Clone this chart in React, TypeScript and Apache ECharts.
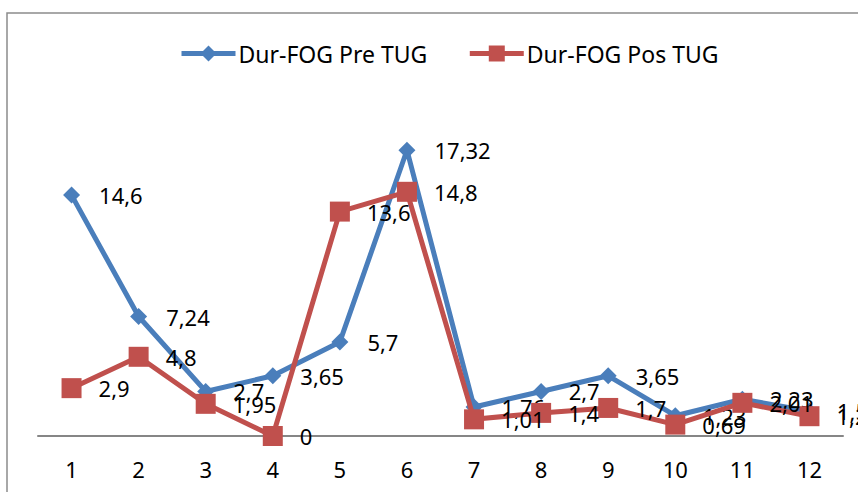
import React, { useEffect, useRef } from "react";
import * as echarts from "echarts";

const categories = ["1", "2", "3", "4", "5", "6", "7", "8", "9", "10", "11", "12"];
const preTUG = [14.6, 7.24, 2.7, 3.65, 5.7, 17.32, 1.76, 2.7, 3.65, 1.23, 2.23, 1.5];
const posTUG = [2.9, 4.8, 1.95, 0, 13.6, 14.8, 1.01, 1.4, 1.7, 0.69, 2.01, 1.2];
const seriesNames = ["Dur-FOG Pre TUG", "Dur-FOG Pos TUG"];

const FONT = "Noto Sans";
const fmt = (p: any) => String(p.value).replace(".", ",");

export default function App() {
  const ref = useRef<HTMLDivElement>(null);
  useEffect(() => {
    if (!ref.current) return;
    const chart = echarts.init(ref.current, undefined, { renderer: "svg" });
    chart.setOption({
      animation: false,
      backgroundColor: "#ffffff",
      textStyle: { fontFamily: FONT },
      graphic: [
        {
          type: "rect",
          shape: { x: 7, y: 13, width: 900, height: 600 },
          style: { fill: "none", stroke: "#8c8c8c", lineWidth: 1.5 },
          silent: true,
        },
      ],
      legend: {
        left: 174,
        top: 37,
        itemWidth: 54,
        itemHeight: 20,
        itemGap: 40,
        lineStyle: { width: 5 },
        textStyle: { fontFamily: FONT, fontSize: 23, color: "#000", padding: [0, 0, 0, -2] },
        data: seriesNames,
      },
      grid: { left: 38, right: 15, top: 106, bottom: 56, containLabel: false },
      xAxis: {
        type: "category",
        data: categories,
        boundaryGap: true,
        axisLine: { lineStyle: { color: "#868686", width: 2 } },
        axisTick: { show: false },
        axisLabel: { fontFamily: FONT, fontSize: 22, color: "#000", margin: 22 },
      },
      yAxis: {
        type: "value",
        min: 0,
        max: 20,
        show: false,
        splitLine: { show: false },
      },
      series: [
        {
          name: seriesNames[0],
          type: "line",
          data: preTUG,
          color: "#4a7ebb",
          symbol: "diamond",
          symbolSize: 17,
          lineStyle: { width: 5, color: "#4a7ebb" },
          itemStyle: { color: "#4a7ebb" },
          z: 2,
          label: {
            show: true,
            position: "right",
            distance: 19,
            formatter: fmt,
            fontFamily: FONT,
            fontSize: 22,
            color: "#000",
          },
        },
        {
          name: seriesNames[1],
          type: "line",
          data: posTUG,
          color: "#c0504d",
          symbol: "rect",
          symbolSize: 20,
          lineStyle: { width: 5, color: "#c0504d" },
          itemStyle: { color: "#c0504d" },
          z: 3,
          label: {
            show: true,
            position: "right",
            distance: 17,
            formatter: fmt,
            fontFamily: FONT,
            fontSize: 22,
            color: "#000",
          },
        },
      ],
    });
    return () => chart.dispose();
  }, []);
  return (
    <div
      ref={ref}
      style={{ position: "fixed", left: 0, top: 0, width: 858, height: 492 }}
    />
  );
}
